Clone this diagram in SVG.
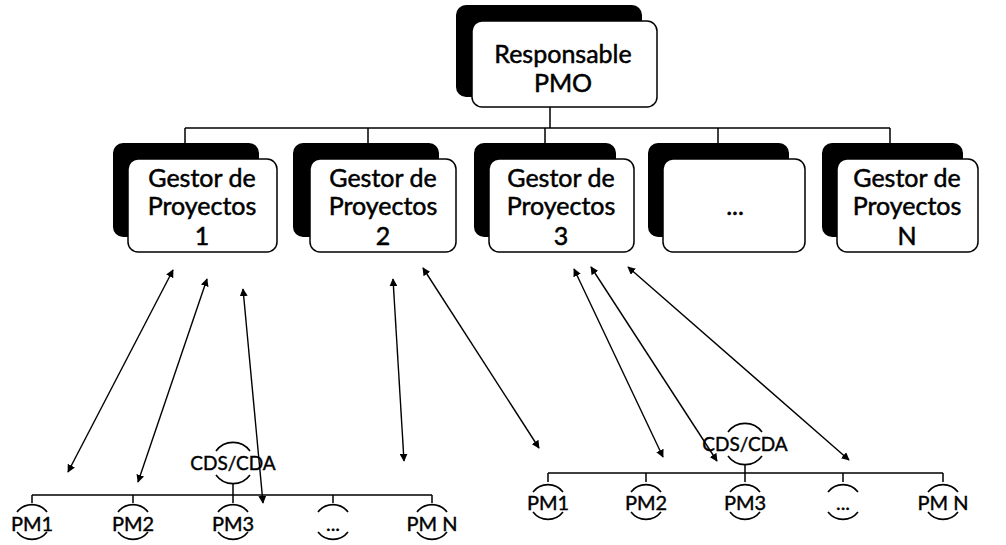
<svg xmlns="http://www.w3.org/2000/svg" width="1006" height="545" viewBox="0 0 1006 545">
  <defs>
    <marker id="ah" viewBox="0 0 10 10" refX="9" refY="5" markerWidth="8" markerHeight="8" markerUnits="userSpaceOnUse" orient="auto-start-reverse">
      <path d="M0,0 L10,5 L0,10 z" fill="#000"/>
    </marker>
    <style>
      .back { fill: #000; }
      .front { fill: #fff; stroke: #000; stroke-width: 1.5; }
      .lbl { font-family: Lato, "Liberation Sans", sans-serif; font-size: 25px; fill: #000; stroke: #000; stroke-width: 0.5; text-anchor: middle; }
      .pm { font-family: Lato, "Liberation Sans", sans-serif; font-size: 20px; fill: #000; stroke: #000; stroke-width: 0.4; text-anchor: middle; }
      .cds { font-family: Lato, "Liberation Sans", sans-serif; font-size: 19px; fill: #000; stroke: #000; stroke-width: 0.4; text-anchor: middle; }
      .ln { stroke: #000; stroke-width: 1.5; fill: none; }
      .arc { stroke: #000; stroke-width: 1.6; fill: none; }
      .arr { stroke: #000; stroke-width: 1.4; fill: none; marker-start: url(#ah); marker-end: url(#ah); }
    </style>
  </defs>
  <rect width="1006" height="545" fill="#fff"/>

  <!-- tree connectors -->
  <g id="connectors">
    <path class="ln" d="M550,107 V128 M185,128 H890 M185,128 V143 M368,128 V143 M545,128 V143 M718,128 V143 M890,128 V143"/>
    <!-- left team bus -->
    <path class="ln" d="M32,495 H432 M32,495 V503 M133,495 V503 M233,495 V503 M333,495 V503 M432,495 V503 M233,495 V484"/>
    <!-- right team bus -->
    <path class="ln" d="M548,473 H943 M548,473 V482 M646,473 V482 M745,473 V482 M843,473 V482 M943,473 V482 M745,473 V465"/>
    <!-- double arrows between managers and teams -->
    <line class="arr" x1="173" y1="270" x2="68" y2="472"/>
    <line class="arr" x1="207" y1="279" x2="138" y2="482"/>
    <line class="arr" x1="243" y1="289" x2="263" y2="503"/>
    <line class="arr" x1="393" y1="279" x2="404" y2="461"/>
    <line class="arr" x1="423" y1="268" x2="539" y2="448"/>
    <line class="arr" x1="574" y1="269" x2="663" y2="457"/>
    <line class="arr" x1="591" y1="267" x2="717" y2="461"/>
    <line class="arr" x1="628" y1="267" x2="849" y2="460"/>
  </g>

  <!-- PMO head -->
  <g id="pmo">
    <rect class="back" x="456" y="5" width="186" height="92" rx="10"/>
    <rect class="front" x="472" y="21" width="185" height="86" rx="10"/>
    <text class="lbl" x="563" y="63">Responsable</text>
    <text class="lbl" x="563" y="92">PMO</text>
  </g>

  <g id="gestor1">
    <rect class="back" x="113" y="143" width="146" height="94" rx="10"/>
    <rect class="front" x="128" y="159" width="149" height="93" rx="10"/>
    <text class="lbl" x="202" y="187">Gestor de</text>
    <text class="lbl" x="202" y="215">Proyectos</text>
    <text class="lbl" x="202" y="245">1</text>
  </g>
  <g id="gestor2">
    <rect class="back" x="293" y="143" width="146" height="94" rx="10"/>
    <rect class="front" x="310" y="159" width="146" height="93" rx="10"/>
    <text class="lbl" x="383" y="187">Gestor de</text>
    <text class="lbl" x="383" y="215">Proyectos</text>
    <text class="lbl" x="383" y="245">2</text>
  </g>
  <g id="gestor3">
    <rect class="back" x="474" y="143" width="142" height="94" rx="10"/>
    <rect class="front" x="489" y="159" width="145" height="93" rx="10"/>
    <text class="lbl" x="561" y="187">Gestor de</text>
    <text class="lbl" x="561" y="215">Proyectos</text>
    <text class="lbl" x="561" y="245">3</text>
  </g>
  <g id="gestor4">
    <rect class="back" x="648" y="143" width="141" height="94" rx="10"/>
    <rect class="front" x="663" y="159" width="142" height="93" rx="10"/>
    <text class="lbl" x="735" y="215">...</text>
  </g>
  <g id="gestorN">
    <rect class="back" x="822" y="143" width="141" height="94" rx="10"/>
    <rect class="front" x="837" y="159" width="141" height="93" rx="10"/>
    <text class="lbl" x="907" y="187">Gestor de</text>
    <text class="lbl" x="907" y="215">Proyectos</text>
    <text class="lbl" x="907" y="245">N</text>
  </g>

  <!-- left team -->
  <g id="cds-left">
    <path class="arc" d="M216,451 A21,21 0 0 1 250,451 M216,475 A21,21 0 0 0 250,475"/>
    <text class="cds" x="233" y="470">CDS/CDA</text>
  </g>
  <g id="pm1-left">
    <path class="arc" d="M17,512 A19,19 0 0 1 47,512 M17,532 A19,19 0 0 0 47,532"/>
    <text class="pm" x="32" y="531">PM1</text>
  </g>
  <g id="pm2-left">
    <path class="arc" d="M118,512 A19,19 0 0 1 148,512 M118,532 A19,19 0 0 0 148,532"/>
    <text class="pm" x="133" y="531">PM2</text>
  </g>
  <g id="pm3-left">
    <path class="arc" d="M218,512 A19,19 0 0 1 248,512 M218,532 A19,19 0 0 0 248,532"/>
    <text class="pm" x="233" y="531">PM3</text>
  </g>
  <g id="pmx-left">
    <path class="arc" d="M318,512 A19,19 0 0 1 348,512 M318,532 A19,19 0 0 0 348,532"/>
    <text class="pm" x="333" y="531">...</text>
  </g>
  <g id="pmn-left">
    <path class="arc" d="M417,512 A19,19 0 0 1 447,512 M417,532 A19,19 0 0 0 447,532"/>
    <text class="pm" x="432" y="531">PM N</text>
  </g>

  <!-- right team -->
  <g id="cds-right">
    <path class="arc" d="M728,432 A21,21 0 0 1 762,432 M728,456 A21,21 0 0 0 762,456"/>
    <text class="cds" x="745" y="451">CDS/CDA</text>
  </g>
  <g id="pm1-right">
    <path class="arc" d="M533,492 A19,19 0 0 1 563,492 M533,512 A19,19 0 0 0 563,512"/>
    <text class="pm" x="548" y="510">PM1</text>
  </g>
  <g id="pm2-right">
    <path class="arc" d="M631,492 A19,19 0 0 1 661,492 M631,512 A19,19 0 0 0 661,512"/>
    <text class="pm" x="646" y="510">PM2</text>
  </g>
  <g id="pm3-right">
    <path class="arc" d="M730,492 A19,19 0 0 1 760,492 M730,512 A19,19 0 0 0 760,512"/>
    <text class="pm" x="745" y="510">PM3</text>
  </g>
  <g id="pmx-right">
    <path class="arc" d="M828,492 A19,19 0 0 1 858,492 M828,512 A19,19 0 0 0 858,512"/>
    <text class="pm" x="843" y="510">...</text>
  </g>
  <g id="pmn-right">
    <path class="arc" d="M928,492 A19,19 0 0 1 958,492 M928,512 A19,19 0 0 0 958,512"/>
    <text class="pm" x="943" y="510">PM N</text>
  </g>
</svg>
